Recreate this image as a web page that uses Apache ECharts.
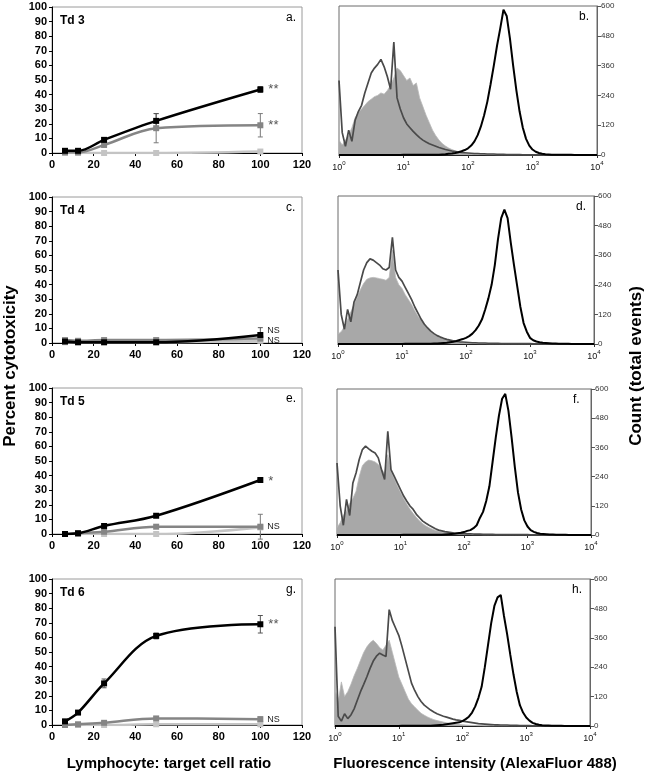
<!DOCTYPE html>
<html><head><meta charset="utf-8">
<script src="https://cdn.jsdelivr.net/npm/echarts@6/dist/echarts.min.js"></script>
<style>html,body{margin:0;padding:0;background:#fff}#c{width:647px;height:774px}</style>
</head><body><div id="c"></div>
<script>
// ---------- cytotoxicity panels (a, c, e, g) ----------
const ratios = [6.25, 12.5, 25, 50, 100];
const panelNames = ['Td 3', 'Td 4', 'Td 5', 'Td 6'];
const leftLetters = ['a.', 'c.', 'e.', 'g.'];
const rightLetters = ['b.', 'd.', 'f.', 'h.'];

const aBlack = [1.5, 1.5, 9, 22, 43.5];   const aBlackErr = [0, 0, 1.5, 5, 2];
const aGray  = [0.5, 0.5, 5.5, 17, 19];   const aGrayErr  = [0, 0, 1, 10, 8];
const aLight = [0, 0, 0, 0, 1];
const aMarks = ['**', '**'];

const cBlack = [1, 0.5, 0.5, 0.5, 5.5];   const cBlackErr = [0, 0, 0, 0, 5];
const cGray  = [2, 1.5, 2, 2, 3];         const cGrayErr  = [0, 0, 0, 0, 1.5];
const cLight = [0.5, 0.5, 0.5, 0.5, 1.5];
const cMarks = ['NS', 'NS'];

const eBlack = [0, 0.5, 5.5, 12.5, 37];   const eBlackErr = [0, 0, 0.5, 1, 1];
const eGray  = [0, 0.5, 1.5, 5, 5];       const eGrayErr  = [0, 0, 0, 0, 8.5];
const eLight = [0, 0, 0, 0, 4.5];
const eMarks = ['*', 'NS'];

const gBlack = [2.5, 8.5, 28.5, 61, 69];  const gBlackErr = [0, 0.5, 3, 2, 6];
const gGray  = [0, 0.5, 1.5, 4.5, 4];     const gGrayErr  = [0, 0, 0.5, 1, 1.5];
const gLight = [0, 0, 0, 0.5, 0.5];
const gMarks = ['**', 'NS'];

// ---------- histogram panels (b, d, f, h) ----------
// x = log10(fluorescence intensity)
const histExp = [0,0.05,0.1,0.15,0.2,0.25,0.3,0.35,0.4,0.45,
 0.5,0.55,0.6,0.65,0.7,0.75,0.8,0.85,0.9,0.95,
 1,1.05,1.1,1.15,1.2,1.25,1.3,1.35,1.4,1.45,
 1.5,1.55,1.6,1.65,1.7,1.75,1.8,1.85,1.9,1.95,
 2,2.05,2.1,2.15,2.2,2.25,2.3,2.35,2.4,2.45,
 2.5,2.55,2.6,2.65,2.7,2.75,2.8,2.85,2.9,2.95,
 3,3.05,3.1,3.15,3.2,3.25,3.3,3.35,3.4,3.45,
 3.5,3.55,3.6,3.65,3.7,3.75,3.8,3.85,3.9,3.95,4];
const logTicks = [0, 1, 2, 3, 4];

const bFill = [60,40,60,80,110,150,170,185,200,215,
 225,235,240,250,245,260,280,310,350,340,
 320,300,310,280,290,230,195,160,130,100,
 78,60,46,36,28,22,17,13,10,8,
 6,5,4,3,2,2,1,1,1,0,
 0,0,0,0,0,0,0,0,0,0, 0,0,0,0,0,0,0,0,0,0, 0,0,0,0,0,0,0,0,0,0, 0];
const bDark = [300,90,35,100,55,140,175,200,250,290,
 330,350,365,385,355,315,265,455,230,185,
 150,125,110,95,82,70,60,52,45,40,
 35,30,26,22,19,16,14,12,10,9,
 8,7,6,6,5,5,4,4,4,3,
 3,3,2,2,2,2,2,1,1,1, 1,1,1,1,1,0,0,0,0,0, 0,0,0,0,0,0,0,0,0,0, 0];
const bBlack = [0,0,0,0,0,0,0,0,0,0, 0,0,0,0,0,0,0,0,0,0,
 1,1,1,1,1,1,1,1,1,1,
 1,1,2,3,5,6,8,11,15,20,
 27,38,55,80,115,160,215,285,360,440,
 510,585,560,470,360,260,175,110,65,38,
 22,13,8,5,3,2,1,1,1,1,
 1,1,1,0,0,0,0,0,0,0, 0];

const dFill = [40,50,70,100,130,160,190,220,245,262,
 268,270,268,265,262,258,270,380,270,240,
 225,200,180,160,135,112,95,78,62,50,
 40,32,26,21,17,14,11,9,7,6,
 5,4,3,2,1,1,1,0,0,0,
 0,0,0,0,0,0,0,0,0,0, 0,0,0,0,0,0,0,0,0,0, 0,0,0,0,0,0,0,0,0,0, 0];
const dDark = [300,120,60,140,90,170,200,250,300,330,
 345,340,330,320,305,300,310,432,300,270,
 255,230,205,180,150,125,100,80,65,52,
 42,34,28,23,19,16,13,11,9,8,
 7,6,5,5,4,4,4,3,3,3,
 3,2,2,2,2,2,2,2,2,2, 2,1,1,1,1,1,0,0,0,0, 0,0,0,0,0,0,0,0,0,0, 0];
const dBlack = [0,0,0,0,0,0,0,0,0,0, 0,0,0,0,0,0,0,0,0,0,
 0,1,1,1,1,1,1,1,1,1,
 2,2,3,4,5,7,9,12,16,20,
 25,32,42,56,75,100,140,185,240,320,
 425,510,545,510,410,320,235,150,85,50,
 25,15,10,7,5,4,3,2,2,1,
 1,1,1,0,0,0,0,0,0,0, 0];

const fFill = [30,50,80,100,130,150,180,240,285,300,
 308,305,300,290,272,252,330,262,232,202,
 176,150,126,106,88,72,58,46,37,30,
 24,19,15,12,10,8,7,6,5,4,
 3,2,2,1,1,1,0,0,0,0,
 0,0,0,0,0,0,0,0,0,0, 0,0,0,0,0,0,0,0,0,0, 0,0,0,0,0,0,0,0,0,0, 0];
const fDark = [296,120,40,146,80,214,255,310,351,365,
 354,344,337,317,269,228,426,269,242,214,
 187,160,139,119,105,85,71,57,48,40,
 33,26,20,17,14,12,10,8,7,6,
 6,5,5,4,4,4,3,3,3,3,
 2,2,2,2,2,2,2,2,2,2, 2,1,1,1,1,1,0,0,0,0, 0,0,0,0,0,0,0,0,0,0, 0];
const fBlack = [0,0,0,0,0,0,0,0,0,0, 0,0,0,0,0,0,0,0,0,0,
 0,1,1,1,1,1,1,1,1,1,
 1,1,1,1,2,3,4,5,7,9,
 12,17,20,28,40,70,95,140,200,300,
 400,490,560,580,510,400,280,175,105,60,
 35,20,13,8,5,4,3,2,2,1,
 1,1,1,0,0,0,0,0,0,0, 0];

const hFill = [150,100,180,120,140,170,205,235,268,300,
 323,340,350,337,320,310,330,350,300,250,
 200,170,140,110,91,78,64,52,44,37,
 31,26,22,19,16,13,11,9,7,6,
 5,4,3,2,2,1,1,0,0,0,
 0,0,0,0,0,0,0,0,0,0, 0,0,0,0,0,0,0,0,0,0, 0,0,0,0,0,0,0,0,0,0, 0];
const hDark = [405,40,20,50,30,45,70,105,140,170,
 201,235,265,285,297,290,284,475,430,400,
 370,325,275,225,175,145,120,100,85,75,
 65,57,50,45,40,36,32,28,25,23,
 20,18,16,14,12,10,9,8,7,6,
 5,5,4,4,4,3,3,3,2,2, 2,2,1,1,1,1,1,1,1,1, 1,0,0,0,0,0,0,0,0,0, 0];
const hBlack = [0,0,0,0,0,0,0,0,0,0, 0,0,0,0,0,0,0,0,0,0,
 0,1,1,1,1,1,1,1,1,1,
 1,2,3,4,5,7,9,11,13,15,
 20,28,38,55,80,115,160,240,330,420,
 490,525,535,450,375,290,210,140,85,55,
 35,22,13,8,5,3,2,2,1,1,
 1,1,0,0,0,0,0,0,0,0, 0];

// ---------- build chart ----------
const FONT = '"Liberation Sans", Arial, sans-serif';
const leftPanels = [
  {blk:aBlack, blkErr:aBlackErr, gry:aGray, gryErr:aGrayErr, lgt:aLight, marks:aMarks},
  {blk:cBlack, blkErr:cBlackErr, gry:cGray, gryErr:cGrayErr, lgt:cLight, marks:cMarks},
  {blk:eBlack, blkErr:eBlackErr, gry:eGray, gryErr:eGrayErr, lgt:eLight, marks:eMarks},
  {blk:gBlack, blkErr:gBlackErr, gry:gGray, gryErr:gGrayErr, lgt:gLight, marks:gMarks}
];
const rightPanels = [
  {fill:bFill, dark:bDark, black:bBlack},
  {fill:dFill, dark:dDark, black:dBlack},
  {fill:fFill, dark:fDark, black:fBlack},
  {fill:hFill, dark:hDark, black:hBlack}
];
const leftTops = [7, 197, 388, 579];
const rightBoxes = [
  {left:339, top:6, width:258, height:149},
  {left:338, top:196, width:256, height:148},
  {left:337, top:389, width:254, height:146},
  {left:335, top:579, width:255, height:147}
];

const grid = [], xAxis = [], yAxis = [], series = [], graphic = [];

leftTops.forEach((t, i) => {
  grid.push({left:52, top:t, width:250, height:146, show:true, borderColor:'#9a9a9a', borderWidth:1, backgroundColor:'#fff'});
  xAxis.push({type:'value', gridIndex:i, min:0, max:120, interval:20,
    axisLine:{show:true, onZero:false, lineStyle:{color:'#000', width:1}},
    axisTick:{show:true, length:3, lineStyle:{color:'#000'}},
    axisLabel:{fontFamily:FONT, fontWeight:'bold', fontSize:11, color:'#000', margin:6},
    splitLine:{show:false}});
  yAxis.push({type:'value', gridIndex:i, min:0, max:100, interval:10,
    axisLine:{show:true, onZero:false, lineStyle:{color:'#000', width:1}},
    axisTick:{show:true, length:3, lineStyle:{color:'#000'}},
    axisLabel:{fontFamily:FONT, fontWeight:'bold', fontSize:11, color:'#000', margin:5},
    splitLine:{show:false}});
});
rightBoxes.forEach((b, k) => {
  const gi = 4 + k;
  grid.push(Object.assign({show:true, borderColor:'#6a6a6a', borderWidth:1, backgroundColor:'#fff'}, b));
  xAxis.push({type:'value', gridIndex:gi, min:logTicks[0], max:logTicks[logTicks.length-1], interval:1,
    axisLine:{show:true, onZero:false, lineStyle:{color:'#222', width:1}},
    axisTick:{show:true, length:3, lineStyle:{color:'#333'}},
    minorTick:{show:false},
    axisLabel:{margin:5, formatter: v => '{b|10}{s|' + v + '}',
      rich:{b:{fontFamily:FONT, fontSize:9, color:'#111', lineHeight:12, verticalAlign:'bottom'},
            s:{fontFamily:FONT, fontSize:6, color:'#111', lineHeight:7, verticalAlign:'top'}}},
    splitLine:{show:false}});
  yAxis.push({type:'value', gridIndex:gi, position:'right', min:0, max:600, interval:120,
    axisLine:{show:true, onZero:false, lineStyle:{color:'#666', width:1}},
    axisTick:{show:true, length:4, lineStyle:{color:'#555'}},
    axisLabel:{fontFamily:FONT, fontSize:8, color:'#333', margin:4},
    splitLine:{show:false}});
});

function errSeries(gi, vals, errs, color) {
  return {type:'custom', xAxisIndex:gi, yAxisIndex:gi, z:3, silent:true,
    data: ratios.map((r, j) => [r, vals[j], errs[j]]),
    renderItem: (params, api) => {
      const x = api.value(0), y = api.value(1), e = api.value(2);
      if (!e) return null;
      const top = api.coord([x, y + e]), bot = api.coord([x, y - e]);
      const w = 2.5, st = {stroke: color, lineWidth: 1};
      return {type:'group', children:[
        {type:'line', shape:{x1:top[0], y1:top[1], x2:bot[0], y2:bot[1]}, style:st},
        {type:'line', shape:{x1:top[0]-w, y1:top[1], x2:top[0]+w, y2:top[1]}, style:st},
        {type:'line', shape:{x1:bot[0]-w, y1:bot[1], x2:bot[0]+w, y2:bot[1]}, style:st}
      ]};
    }};
}
function lineSeries(gi, vals, color, z, mark, markOffset) {
  const data = ratios.map((r, j) => {
    if (j === ratios.length - 1 && mark) {
      const isNS = mark === 'NS';
      return {value:[r, vals[j]], label:{show:true, position:'right', distance:isNS ? 4 : 5,
        offset: markOffset || [0, 0], formatter: mark,
        fontFamily: isNS ? '"Liberation Sans Narrow", "Liberation Sans", Arial' : FONT,
        fontSize: isNS ? 9 : 13, color: isNS ? '#222' : '#555', fontWeight:'normal'}};
    }
    return [r, vals[j]];
  });
  return {type:'line', xAxisIndex:gi, yAxisIndex:gi, data, smooth:0.35, z,
    symbol:'rect', symbolSize:6, showSymbol:true,
    lineStyle:{color, width:2.5}, itemStyle:{color}};
}

leftPanels.forEach((p, i) => {
  const offB = (i === 1) ? [0, -4] : (i === 2 ? [0, 1] : [0, 0]);
  const offG = (i === 1) ? [0, 2] : [0, 0];
  series.push(lineSeries(i, p.lgt, '#c4c4c4', 4, null));
  series.push(errSeries(i, p.gry, p.gryErr, '#7a7a7a'));
  series.push(lineSeries(i, p.gry, '#858585', 5, p.marks[1], offG));
  series.push(errSeries(i, p.blk, p.blkErr, '#555'));
  series.push(lineSeries(i, p.blk, '#000', 6, p.marks[0], offB));
});
rightPanels.forEach((p, k) => {
  const gi = 4 + k;
  const pairs = arr => histExp.map((x, j) => [x, arr[j]]);
  series.push({type:'line', xAxisIndex:gi, yAxisIndex:gi, data:pairs(p.fill), symbol:'none', z:2,
    lineStyle:{color:'#b8b8b8', width:0.8}, areaStyle:{color:'#a8a8a8', opacity:1}});
  series.push({type:'line', xAxisIndex:gi, yAxisIndex:gi, data:pairs(p.dark), symbol:'none', z:3,
    lineStyle:{color:'#4a4a4a', width:1.7}});
  series.push({type:'line', xAxisIndex:gi, yAxisIndex:gi, data:pairs(p.black), symbol:'none', z:4,
    lineStyle:{color:'#000', width:2}});
});

// panel texts
leftTops.forEach((t, i) => {
  graphic.push({type:'text', left:60, top:t + 8, z:100,
    style:{text:panelNames[i], font:'bold 12px ' + FONT, fill:'#000'}});
  graphic.push({type:'text', left:286, top:t + 5, z:100,
    style:{text:leftLetters[i], font:'12px ' + FONT, fill:'#000'}});
});
rightBoxes.forEach((b, k) => {
  graphic.push({type:'text', left:b.left + b.width - 18, top:b.top + 5, z:100,
    style:{text:rightLetters[k], font:'12px ' + FONT, fill:'#000'}});
});
graphic.push({type:'text', x:10, y:366, rotation:Math.PI/2, z:100,
  style:{text:'Percent cytotoxicity', font:'bold 17px ' + FONT, fill:'#000', align:'center', verticalAlign:'middle'}});
graphic.push({type:'text', x:636, y:366, rotation:Math.PI/2, z:100,
  style:{text:'Count (total events)', font:'bold 17px ' + FONT, fill:'#000', align:'center', verticalAlign:'middle'}});
graphic.push({type:'text', x:169, y:764, z:100,
  style:{text:'Lymphocyte: target cell ratio', font:'bold 15px ' + FONT, fill:'#000', align:'center', verticalAlign:'middle'}});
graphic.push({type:'text', x:475, y:764, z:100,
  style:{text:'Fluorescence intensity (AlexaFluor 488)', font:'bold 15px ' + FONT, fill:'#000', align:'center', verticalAlign:'middle'}});

const chart = echarts.init(document.getElementById('c'), null, {renderer:'canvas'});
chart.setOption({animation:false, backgroundColor:'#fff', grid, xAxis, yAxis, series, graphic});
</script>
</body></html>
